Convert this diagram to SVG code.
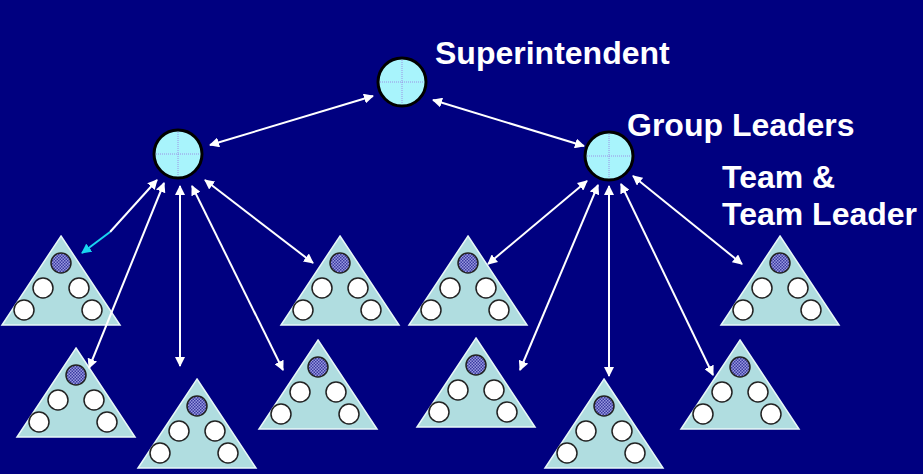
<svg xmlns="http://www.w3.org/2000/svg" xmlns:xlink="http://www.w3.org/1999/xlink" width="923" height="474" viewBox="0 0 923 474">
<defs>
<pattern id="chk" width="3" height="3" patternUnits="userSpaceOnUse"><rect width="3" height="3" fill="#9a9ae0"/><rect width="1.5" height="1.5" fill="#3a3aa0"/><rect x="1.5" y="1.5" width="1.5" height="1.5" fill="#3a3aa0"/></pattern>
<marker id="ah" viewBox="0 0 10 10" refX="9" refY="5" markerWidth="5" markerHeight="5" orient="auto-start-reverse"><path d="M0,0 L10,5 L0,10 z" fill="#fff"/></marker>
<marker id="ahc" viewBox="0 0 10 10" refX="9" refY="5" markerWidth="5" markerHeight="5" orient="auto"><path d="M0,0 L10,5 L0,10 z" fill="#19d6f0"/></marker>
<g id="tri">
<path d="M0,0 L59,89 L-59,89 Z" fill="#b0dde0" stroke="#e8f8f8" stroke-width="1.5"/>
<circle cx="0" cy="27" r="10" fill="url(#chk)" stroke="#222" stroke-width="1.5"/>
<circle cx="-18" cy="52" r="10" fill="#fff" stroke="#222" stroke-width="1.5"/>
<circle cx="18" cy="52" r="10" fill="#fff" stroke="#222" stroke-width="1.5"/>
<circle cx="-37" cy="74" r="10" fill="#fff" stroke="#222" stroke-width="1.5"/>
<circle cx="31" cy="74" r="10" fill="#fff" stroke="#222" stroke-width="1.5"/>
</g>
<g id="big">
<circle r="24" fill="#a8f4fc" stroke="#000" stroke-width="3"/>
<path d="M-22,0 H22 M0,-22 V22" stroke="#9a7ae0" stroke-width="0.8" stroke-dasharray="1,1"/>
</g>
</defs>
<style>text{font-family:"Liberation Sans",Arial,sans-serif;font-weight:bold;font-size:32px;fill:#fff}.c{stroke:#fff;stroke-width:2;fill:none;marker-end:url(#ah);marker-start:url(#ah)}</style>
<rect width="923" height="474" fill="#000080"/>
<g id="superintendent"><use xlink:href="#big" x="402" y="82"/><text x="435" y="64">Superintendent</text></g>
<g id="group-leader-left"><use xlink:href="#big" x="178" y="154"/></g>
<g id="group-leader-right"><use xlink:href="#big" x="609" y="156"/><text x="627" y="136">Group Leaders</text></g>
<g id="label-team"><text x="722" y="188">Team &amp;</text><text x="722" y="225">Team Leader</text></g>
<g id="t1"><use xlink:href="#tri" x="61" y="236"/></g>
<g id="t2"><use xlink:href="#tri" x="76" y="348"/></g>
<g id="t3"><use xlink:href="#tri" x="197" y="379"/></g>
<g id="t4"><use xlink:href="#tri" x="340" y="236"/></g>
<g id="t5"><use xlink:href="#tri" x="318" y="340"/></g>
<g id="t6"><use xlink:href="#tri" x="468" y="236"/></g>
<g id="t7"><use xlink:href="#tri" x="476" y="338"/></g>
<g id="t8"><use xlink:href="#tri" x="604" y="379"/></g>
<g id="t9"><use xlink:href="#tri" x="740" y="340"/></g>
<g id="t10"><use xlink:href="#tri" x="780" y="236"/></g>
<g id="connectors">
<line class="c" x1="210" y1="145" x2="373" y2="96"/>
<line class="c" x1="433" y1="100" x2="584" y2="146"/>
<line stroke="#fff" stroke-width="2" marker-start="url(#ah)" x1="157" y1="180" x2="110" y2="232"/>
<line stroke="#19d6f0" stroke-width="2" marker-end="url(#ahc)" x1="110" y1="232" x2="82" y2="253"/>
<line class="c" x1="164" y1="183" x2="89" y2="368"/>
<line class="c" x1="180" y1="186" x2="180" y2="366"/>
<line class="c" x1="192" y1="186" x2="283" y2="370"/>
<line class="c" x1="205" y1="180" x2="313" y2="263"/>
<line class="c" x1="587" y1="181" x2="488" y2="264"/>
<line class="c" x1="598" y1="185" x2="520" y2="370"/>
<line class="c" x1="609" y1="186" x2="609" y2="376"/>
<line class="c" x1="621" y1="184" x2="713" y2="375"/>
<line class="c" x1="633" y1="176" x2="742" y2="264"/>
</g>
</svg>
